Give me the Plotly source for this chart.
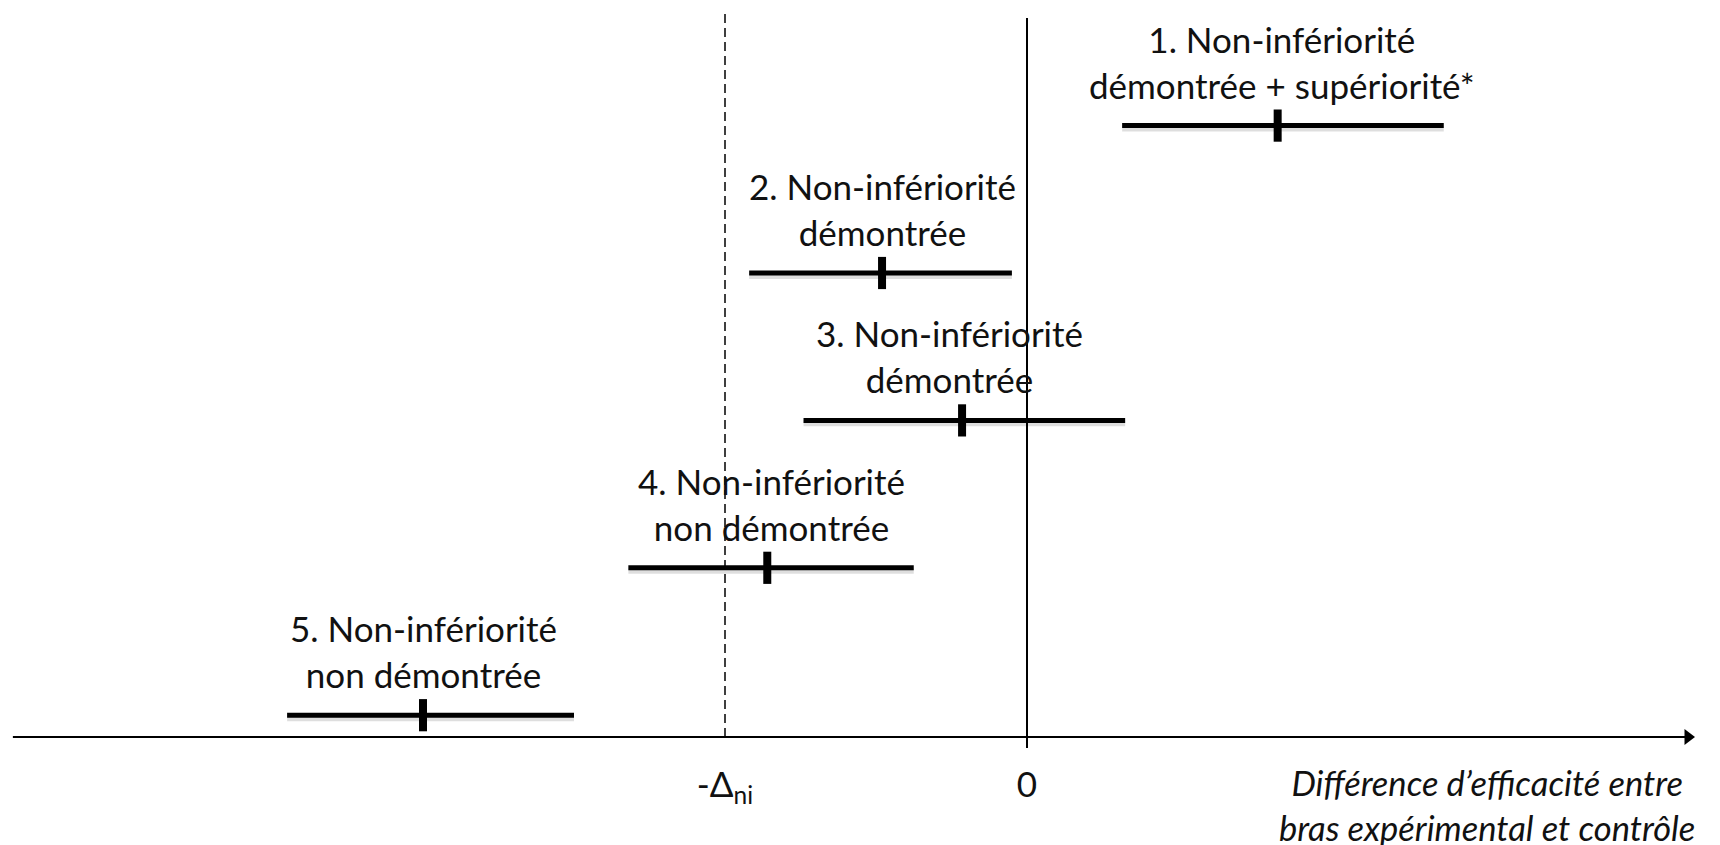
import plotly.graph_objects as go

# ---------------- data ----------------
scenarios = [
    "1. Non-infériorité<br>démontrée + supériorité*",
    "2. Non-infériorité<br>démontrée",
    "3. Non-infériorité<br>démontrée",
    "4. Non-infériorité<br>non démontrée",
    "5. Non-infériorité<br>non démontrée",
]
estimates = [0.83, -0.48, -0.215, -0.86, -2.00]
ci_low = [0.315, -0.92, -0.74, -1.32, -2.45]
ci_high = [1.38, -0.05, 0.325, -0.375, -1.50]
delta_ni = 1.0
tick_labels = ["-Δ<sub>ni</sub>", "0"]
axis_title = "Différence d’efficacité entre<br>bras expérimental et contrôle"

# ---------------- layout constants ----------------
W, H = 1720, 845
OFF = 8                      # page body margin compensation (px)
PX_X = 302.0                 # px per x unit
PX_Y = 147.4                 # px per y unit
ZERO_PX = 1027 - OFF
X_RANGE = [-ZERO_PX / PX_X, (W - ZERO_PX) / PX_X]
TOP_ROW_PX = 125.6 - OFF
Y_MAX = 5 + TOP_ROW_PX / PX_Y
Y_RANGE = [Y_MAX - H / PX_Y, Y_MAX]
Y_AXIS = 0.852
FONT = "Lato, Calibri, Carlito, sans-serif"
TXT = "#111111"
FS = 35

n = len(scenarios)
rows = [n - i for i in range(n)]  # top row highest

fig = go.Figure()

# confidence interval bars (with faint shadow)
for i in range(n):
    fig.add_trace(go.Scatter(
        x=[ci_low[i], ci_high[i]], y=[rows[i] - 0.02, rows[i] - 0.02],
        mode="lines", line=dict(color="rgba(0,0,0,0.13)", width=6),
        hoverinfo="skip", showlegend=False))
    fig.add_trace(go.Scatter(
        x=[ci_low[i], ci_high[i]], y=[rows[i], rows[i]],
        mode="lines", line=dict(color="black", width=5),
        hoverinfo="skip", showlegend=False))

# point estimates
fig.add_trace(go.Scatter(
    x=estimates, y=rows, mode="markers",
    marker=dict(symbol="line-ns", size=23, color="black",
                line=dict(color="black", width=8)),
    hoverinfo="skip", showlegend=False))

# reference lines
fig.add_shape(type="line", x0=0, x1=0, y0=0.777, y1=5.73,
              line=dict(color="black", width=2), layer="above")
fig.add_shape(type="line", x0=-delta_ni, x1=-delta_ni, y0=Y_AXIS, y1=5.757,
              line=dict(color="black", width=1.5, dash="9px,5px"), layer="above")

# horizontal axis line with arrow head
x_start, x_tip = -3.358, 2.212
fig.add_shape(type="line", x0=x_start, x1=x_tip - 8 / PX_X, y0=Y_AXIS, y1=Y_AXIS,
              line=dict(color="black", width=2), layer="above")
fig.add_trace(go.Scatter(
    x=[x_tip - 7 / PX_X], y=[Y_AXIS], mode="markers",
    marker=dict(symbol="triangle-right", size=14, color="black",
                line=dict(width=0)),
    hoverinfo="skip", showlegend=False))

# scenario labels
label_dx = [4, 0, -13, 4, 0]
for i in range(n):
    fig.add_annotation(x=estimates[i], y=rows[i], xref="x", yref="y",
                       text=scenarios[i], showarrow=False,
                       xanchor="center", yanchor="bottom", yshift=18,
                       xshift=label_dx[i], align="center",
                       font=dict(family=FONT, size=FS, color=TXT))

# axis title
fig.add_annotation(x=(1487 - OFF) / W, y=1 - (760 - OFF) / H,
                   xref="paper", yref="paper",
                   text="<i>" + axis_title + "</i>", showarrow=False,
                   xanchor="center", yanchor="top", align="center",
                   font=dict(family=FONT, size=34.5, color=TXT))

fig.update_layout(
    width=W, height=H, margin=dict(l=0, r=0, t=0, b=0),
    paper_bgcolor="white", plot_bgcolor="white",
    font=dict(family=FONT, size=FS, color=TXT),
    xaxis=dict(range=X_RANGE, showgrid=False, zeroline=False, showline=False,
               tickvals=[-delta_ni, 0], ticktext=tick_labels, ticks="",
               anchor="free", position=1 - (737 - OFF) / H, ticklabelstandoff=24,
               tickfont=dict(family=FONT, size=FS, color=TXT)),
    yaxis=dict(range=Y_RANGE, showgrid=False, zeroline=False, showline=False,
               showticklabels=False, ticks=""),
)

fig.write_html("out.html")
